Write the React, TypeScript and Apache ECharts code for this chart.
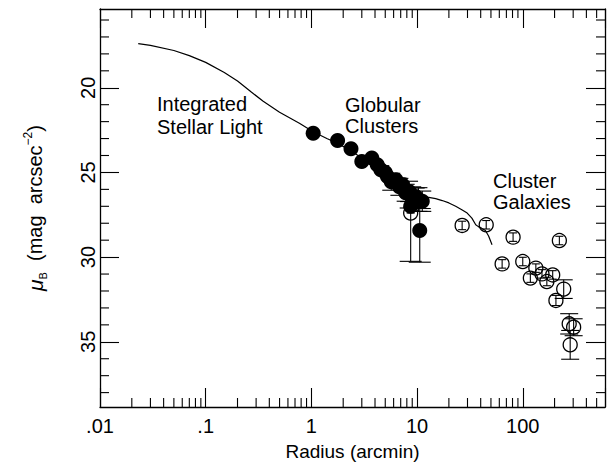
import React, { useEffect, useRef } from 'react';
import * as echarts from 'echarts';

const FONT = '"Liberation Sans", Arial, Helvetica, sans-serif';

// Axis ticks
const xMinorTicks = [
  0.02, 0.03, 0.04, 0.05, 0.06, 0.07, 0.08, 0.09,
  0.2, 0.3, 0.4, 0.5, 0.6, 0.7, 0.8, 0.9,
  2, 3, 4, 5, 6, 7, 8, 9,
  20, 30, 40, 50, 60, 70, 80, 90,
  200, 300, 400, 500,
];
const yMajorTicks = [20, 25, 30, 35];
const yMinorTicks = [16, 17, 18, 19, 21, 22, 23, 24, 26, 27, 28, 29, 31, 32, 33, 34, 36, 37, 38];

// Integrated stellar light profile (solid curve)
const curveR = [0.023, 0.03, 0.05, 0.07, 0.1, 0.15, 0.2, 0.27, 0.35, 0.5, 0.77, 1.04, 1.4, 1.8, 2.4, 3.0, 4.0, 5.2, 6.5, 8.0, 10, 12.5, 15, 17.3, 20, 23.2, 26.5, 29.8, 33, 35.9, 38, 40.7, 44.3, 47.5, 51.2];
const curveMu = [17.4, 17.5, 17.8, 18.1, 18.5, 19.1, 19.6, 20.25, 20.8, 21.45, 22.1, 22.6, 23.0, 23.3, 23.75, 24.15, 24.7, 25.2, 25.6, 25.95, 26.3, 26.46, 26.55, 26.66, 26.8, 27.0, 27.2, 27.4, 27.7, 28.09, 28.2, 28.29, 28.43, 28.75, 29.27];

// Globular clusters (filled)
const gcR = [1.04, 1.77, 2.37, 3.0, 3.73, 4.2, 4.54, 5.0, 5.25, 5.7, 6.3, 6.8, 7.28, 7.8, 8.4, 9.0, 9.7, 10.3, 11.2, 8.7, 10.6];
const gcMu = [22.68, 23.11, 23.6, 24.35, 24.15, 24.55, 24.84, 25.0, 25.24, 25.55, 25.43, 25.85, 25.73, 26.2, 26.12, 26.45, 26.42, 26.6, 26.7, 27.0, 28.43];
const gcErrUp = [0.15, 0.15, 0.15, 0.2, 0.2, 0.3, 0.3, 0.4, 0.3, 0.5, 0.3, 0.5, 0.4, 0.5, 0.6, 0.6, 0.5, 0.7, 0.6, 0.4, 1.3];
const gcErrDown = [0.15, 0.15, 0.15, 0.2, 0.2, 0.3, 0.3, 0.4, 0.3, 0.5, 0.3, 0.5, 0.4, 0.5, 0.6, 0.6, 0.5, 0.7, 0.6, 0.4, 1.87];

// Open circles (cluster galaxies and outer points)
const openR = [8.7, 26.7, 45.1, 81, 222, 63.8, 100, 133, 118, 152, 169, 192, 244, 206, 275, 303, 281];
const openMu = [27.4, 28.13, 28.09, 28.82, 29.02, 30.4, 30.26, 30.65, 31.24, 30.99, 31.44, 31.05, 31.89, 32.56, 33.94, 34.14, 35.18];
const openErrUp = [0.3, 0.25, 0.25, 0.25, 0.25, 0.25, 0.25, 0.25, 0.25, 0.25, 0.25, 0.25, 0.55, 0.3, 0.6, 0.5, 0.85];
const openErrDown = [2.85, 0.25, 0.25, 0.25, 0.25, 0.25, 0.25, 0.25, 0.25, 0.25, 0.25, 0.25, 0.55, 0.3, 0.6, 0.5, 0.85];

const X_MIN = 0.01;
const X_MAX = 600;
const Y_MIN = 15.35;
const Y_MAX = 38.85;
const MAJOR_LEN = 19;
const MINOR_LEN = 9;

function fmtX(v: number): string {
  const l = Math.log10(v);
  const k = Math.round(l);
  if (Math.abs(l - k) > 1e-6) return '';
  if (k < 0) return '.' + '0'.repeat(-k - 1) + '1';
  return String(Math.pow(10, k));
}

// One renderer for error bars (kind 0), x minor ticks (kind 1) and y minor ticks (kind 2)
function renderMarks(_params: any, api: any) {
  const kind = api.value(4);
  const st = { stroke: '#000', lineWidth: 1.1, fill: 'none' };
  if (kind === 1) {
    const v = api.value(0);
    const b = api.coord([v, Y_MAX]);
    const t = api.coord([v, Y_MIN]);
    return {
      type: 'group',
      children: [
        { type: 'line', shape: { x1: b[0], y1: b[1], x2: b[0], y2: b[1] - MINOR_LEN }, style: st },
        { type: 'line', shape: { x1: t[0], y1: t[1], x2: t[0], y2: t[1] + MINOR_LEN }, style: st },
      ],
    };
  }
  if (kind === 2) {
    const v = api.value(1);
    const l = api.coord([X_MIN, v]);
    const r = api.coord([X_MAX, v]);
    return {
      type: 'group',
      children: [
        { type: 'line', shape: { x1: l[0], y1: l[1], x2: l[0] + MINOR_LEN, y2: l[1] }, style: st },
        { type: 'line', shape: { x1: r[0], y1: r[1], x2: r[0] - MINOR_LEN, y2: r[1] }, style: st },
      ],
    };
  }
  const x = api.value(0);
  const m = api.value(1);
  const up = api.value(2);
  const dn = api.value(3);
  const a = api.coord([x, m - up]);
  const b = api.coord([x, m + dn]);
  const e = Math.max(up, dn);
  const hw = e >= 1.5 ? 11 : e >= 0.45 ? 9 : 4;
  return {
    type: 'group',
    children: [
      { type: 'line', shape: { x1: a[0], y1: a[1], x2: b[0], y2: b[1] }, style: st },
      { type: 'line', shape: { x1: a[0] - hw, y1: a[1], x2: a[0] + hw, y2: a[1] }, style: st },
      { type: 'line', shape: { x1: b[0] - hw, y1: b[1], x2: b[0] + hw, y2: b[1] }, style: st },
    ],
  };
}

const openMarkData: number[][] = openR.map((r, i) => [r, openMu[i], openErrUp[i], openErrDown[i], 0]);
const gcMarkData: number[][] = [
  ...gcR.map((r, i) => [r, gcMu[i], gcErrUp[i], gcErrDown[i], 0]),
  ...xMinorTicks.map((v) => [v, 27, 0, 0, 1]),
  ...yMinorTicks.map((v) => [1, v, 0, 0, 2]),
];

const axisLine = { show: true, onZero: false, lineStyle: { color: '#000', width: 1.3 } };
const majorTick = { show: true, inside: true, length: MAJOR_LEN, lineStyle: { color: '#000', width: 1.1 } };

const textEls = [
  { type: 'text', x: 157, y: 104, z: 20, style: { text: 'Integrated', font: `20px ${FONT}`, fill: '#000', textVerticalAlign: 'middle' } },
  { type: 'text', x: 157, y: 126.5, z: 20, style: { text: 'Stellar Light', font: `20px ${FONT}`, fill: '#000', textVerticalAlign: 'middle' } },
  { type: 'text', x: 345, y: 104.5, z: 20, style: { text: 'Globular', font: `20px ${FONT}`, fill: '#000', textVerticalAlign: 'middle' } },
  { type: 'text', x: 345, y: 125.5, z: 20, style: { text: 'Clusters', font: `20px ${FONT}`, fill: '#000', textVerticalAlign: 'middle' } },
  { type: 'text', x: 493, y: 181, z: 20, style: { text: 'Cluster', font: `20px ${FONT}`, fill: '#000', textVerticalAlign: 'middle' } },
  { type: 'text', x: 493, y: 202, z: 20, style: { text: 'Galaxies', font: `20px ${FONT}`, fill: '#000', textVerticalAlign: 'middle' } },
];

function buildOption() {
  return {
    animation: false,
    backgroundColor: '#fff',
    grid: { left: 100, right: 2, top: 9, bottom: 65, containLabel: false },
    xAxis: [
      {
        type: 'log', logBase: 10, min: X_MIN, max: X_MAX, position: 'bottom',
        axisLine, axisTick: majorTick, splitLine: { show: false }, minorTick: { show: false },
        axisLabel: { color: '#000', fontSize: 20, fontFamily: FONT, margin: 9, formatter: fmtX },
        name: 'Radius (arcmin)', nameLocation: 'middle', nameGap: 35,
        nameTextStyle: { color: '#000', fontSize: 19, fontFamily: FONT },
      },
      {
        type: 'log', logBase: 10, min: X_MIN, max: X_MAX, position: 'top',
        axisLine, axisTick: majorTick, splitLine: { show: false }, axisLabel: { show: false },
      },
    ],
    yAxis: [
      {
        type: 'value', inverse: true, min: Y_MIN, max: Y_MAX, position: 'left',
        axisLine, axisTick: { ...majorTick, customValues: yMajorTicks }, splitLine: { show: false },
        axisLabel: {
          customValues: yMajorTicks, rotate: 90, color: '#000', fontSize: 20, fontFamily: FONT, margin: 2,
          formatter: (v: number) => String(Math.round(v)),
        },
        name: '{mu|μ}{sub|B}{t|  (mag  arcsec}{sup|−2}{t|)}',
        nameLocation: 'middle', nameRotate: 90, nameGap: 52,
        nameTextStyle: {
          color: '#000', fontFamily: FONT,
          rich: {
            mu: { fontSize: 21, fontStyle: 'italic', fontFamily: FONT, color: '#000', lineHeight: 26 },
            sub: { fontSize: 11, fontFamily: FONT, color: '#000', verticalAlign: 'bottom', lineHeight: 26 },
            t: { fontSize: 20, fontFamily: FONT, color: '#000', lineHeight: 26 },
            sup: { fontSize: 12, fontFamily: FONT, color: '#000', verticalAlign: 'top', lineHeight: 26 },
          },
        },
      },
      {
        type: 'value', inverse: true, min: Y_MIN, max: Y_MAX, position: 'right',
        axisLine, axisTick: { ...majorTick, customValues: yMajorTicks }, splitLine: { show: false },
        axisLabel: { show: false },
      },
    ],
    graphic: textEls,
    series: [
      {
        type: 'line', name: 'Integrated Stellar Light', xAxisIndex: 0, yAxisIndex: 0, z: 2,
        data: curveR.map((r, i) => [r, curveMu[i]]), showSymbol: false, symbol: 'none',
        lineStyle: { color: '#000', width: 1.2 },
      },
      {
        type: 'scatter', name: 'Cluster Galaxies', xAxisIndex: 0, yAxisIndex: 0, z: 3,
        data: openR.map((r, i) => [r, openMu[i]]), symbol: 'circle', symbolSize: 14,
        itemStyle: { color: 'rgba(255,255,255,0)', borderColor: '#000', borderWidth: 1.3, opacity: 1 },
      },
      {
        type: 'custom', name: 'open errors', xAxisIndex: 0, yAxisIndex: 0, z: 4, clip: false,
        renderItem: renderMarks, data: openMarkData, encode: { x: 0, y: 1 },
      },
      {
        type: 'scatter', name: 'Globular Clusters', xAxisIndex: 0, yAxisIndex: 0, z: 5,
        data: gcR.map((r, i) => [r, gcMu[i]]), symbol: 'circle', symbolSize: 15,
        itemStyle: { color: '#000', opacity: 1 },
      },
      {
        type: 'custom', name: 'gc errors', xAxisIndex: 0, yAxisIndex: 0, z: 6, clip: false,
        renderItem: renderMarks, data: gcMarkData, encode: { x: 0, y: 1 },
      },
    ],
  };
}

export default function App() {
  const ref = useRef<HTMLDivElement>(null);
  useEffect(() => {
    if (!ref.current) return;
    const chart = echarts.init(ref.current, undefined, { renderer: 'svg' });
    chart.setOption(buildOption() as any);
    return () => chart.dispose();
  }, []);
  return (
    <div
      ref={ref}
      style={{ position: 'fixed', left: 0, top: 0, width: 608, height: 472, background: '#fff' }}
    />
  );
}
